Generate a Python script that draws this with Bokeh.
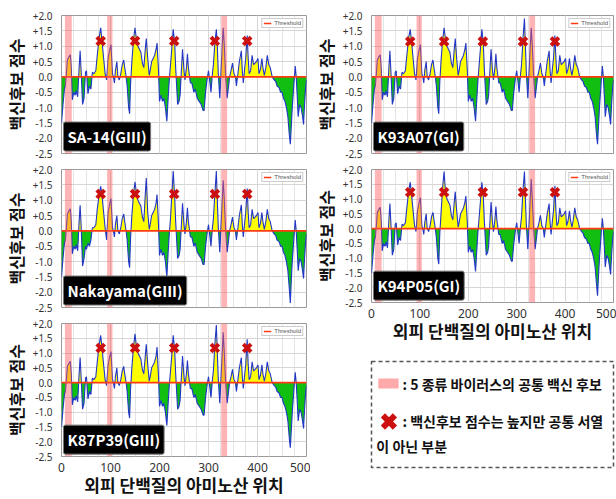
import numpy as np
from bokeh.plotting import figure
from bokeh.layouts import row, column
from bokeh.models import (Range1d, FixedTicker, BoxAnnotation, Label, Legend,
                          LegendItem, CustomJSTickFormatter)
from bokeh.core.properties import value
from bokeh.embed import file_html
from bokeh.resources import INLINE

FONT = "Noto Sans CJK KR"

# ---------------- data ----------------
POS = [0, 3, 6, 8, 10, 12, 15, 18, 20, 22, 25, 28, 30, 33, 36, 38, 40, 43, 46, 49,
       51, 54, 57, 60, 63, 66, 70, 73, 77, 80, 83, 86, 89, 92, 95, 98, 101, 104, 106, 108,
       110, 113, 115, 118, 121, 124, 127, 129, 131, 134, 137, 139, 141, 144, 147, 150, 153, 156, 159, 162,
       165, 168, 171, 173, 176, 179, 181, 184, 187, 190, 193, 195, 198, 200, 203, 206, 209, 212, 215, 218,
       220, 222, 225, 228, 231, 233, 235, 237, 240, 242, 245, 247, 250, 252, 255, 257, 259, 261, 263, 266,
       270, 273, 277, 281, 285, 289, 291, 294, 297, 300, 303, 305, 308, 310, 313, 316, 318, 320, 323, 326,
       328, 330, 332, 335, 338, 341, 343, 346, 349, 352, 355, 357, 360, 363, 367, 369, 371, 374, 376, 379,
       381, 383, 386, 389, 392, 395, 398, 401, 403, 406, 409, 411, 414, 417, 420, 423, 426, 430, 434, 437,
       440, 444, 447, 450, 453, 456, 459, 462, 465, 467, 469, 471, 474, 477, 479, 481, 483, 486, 489, 492,
       494, 496, 498, 500]

SA14 = [-1.5, -0.9, -0.4, -0.3, 0.1, 0.55, 0.65, 0.72, 0.3, -0.75, -0.5, -0.6, -0.45, -0.65, 0.3, 0.85, 0.2, -0.9, -0.7, 0.15,
        0.2, -0.55, -0.3, -0.4, 0.15, 0.1, 0.2, 0.7, 1.3, 1.6, 1.1, 0.6, 0.1, -0.1, 0.6, 0.85, 1.05, 0.1, 0.0, -0.2,
        0.2, 0.5, 0.0, -0.1, 0.1, 0.4, 0.55, 0.3, 0.1, -0.3, -1.0, -1.2, -0.2, 0.6, 1.2, 1.6, 1.2, 1.0, 0.9, 0.8,
        0.45, 0.3, 0.9, 1.25, 0.6, 0.05, 0.2, 0.5, 0.6, 0.7, 0.9, 1.1, 0.2, -0.8, -0.6, -0.8, -0.7, -1.0, -1.45, -0.6,
        -0.1, 0.3, 0.9, 1.55, 1.1, 0.3, -0.3, -0.9, -0.8, -0.6, 0.3, 0.9, 0.2, -0.1, 0.3, 0.75, 0.3, 0.05, -0.2, -0.2,
        -0.5, -0.4, -0.7, -0.8, -0.9, -1.1, -1.1, -0.5, -0.1, 0.2, -0.2, -0.5, 0.1, 0.4, 1.1, 1.55, 1.0, 0.1, -0.7, 0.3,
        1.0, 1.6, 1.1, 0.0, -0.7, -0.3, 0.0, 0.2, 0.45, 0.1, 0.0, -0.3, 0.1, 0.5, 0.85, 0.2, -0.2, 0.3, 0.6, 1.35,
        0.6, 0.1, 0.2, 0.7, 0.4, 0.45, 0.5, 0.6, 0.1, 0.25, 0.6, 0.3, 0.05, 0.3, 0.7, 0.4, 0.3, 0.0, -0.1, -0.15,
        -0.3, -0.35, -0.5, -0.5, -0.7, -0.8, -1.0, -1.3, -1.9, -2.2, -1.6, -1.0, -0.3, 0.35, 0.0, -0.6, -1.3, -0.9, -1.0, -1.3,
        -1.55, -0.9, -0.4, -0.1]

# values read where the other strains differ from SA-14
NAKAYAMA_DIFF = {38: 0.83, 43: -1.15, 46: -0.9, 49: -0.5, 51: -0.6, 54: -0.4, 57: -0.5, 60: -0.3, 63: 0.1,
                 77: 1.2, 80: 1.45, 92: -0.3, 150: 1.6, 171: 1.2, 173: 1.72, 195: 1.18, 215: -1.5,
                 225: 1.1, 228: 1.95, 313: 1.2, 316: 1.95, 330: 1.65, 379: 1.38, 467: -2.35}
K87P39_DIFF = {80: 1.6, 150: 1.65, 173: 1.3, 195: 1.2, 228: 1.6, 313: 1.3, 316: 1.95, 330: 1.7, 379: 1.47}
K93A07_DIFF = {80: 1.55, 150: 1.6, 228: 1.55, 313: 1.25, 316: 1.9, 330: 1.6, 379: 1.35}
K94P05_DIFF = {80: 1.57, 147: 1.4, 150: 1.93, 228: 1.57, 313: 1.3, 316: 1.93, 330: 1.68, 379: 1.45, 467: -2.27}

STRAINS = ["SA-14(GIII)", "Nakayama(GIII)", "K87P39(GIII)", "K93A07(GI)", "K94P05(GI)"]
MARK_X = [80, 150, 230, 313, 379]
MARK_Y = [1.17, 1.2, 1.17, 1.15, 1.23]
BANDS = [(7, 21), (93, 104), (326, 338)]
THRESHOLD = 0.0

X_TICKS = [0, 100, 200, 300, 400, 500]
X_MINOR = list(range(0, 501, 25))
Y_TICKS = [-2.5, -2.0, -1.5, -1.0, -0.5, 0.0, 0.5, 1.0, 1.5, 2.0]
Y_TITLE = "백신후보 점수"
X_TITLE = "외피 단백질의 아미노산 위치"
LEGEND_BAND = ": 5 종류 바이러스의 공통 백신 후보"
LEGEND_MARK = [": 백신후보 점수는 높지만 공통 서열", "이 아닌 부분"]

FRAME_W = 250
FRAME_H = 138


def series(diff):
    return [diff.get(x, v) for x, v in zip(POS, SA14)]


SERIES = [SA14, series(NAKAYAMA_DIFF), series(K87P39_DIFF), series(K93A07_DIFF), series(K94P05_DIFF)]


def split_fill(xs, ys):
    ox, oy = [], []
    for i in range(len(xs)):
        if i > 0 and ((ys[i - 1] < 0 < ys[i]) or (ys[i - 1] > 0 > ys[i])):
            t = ys[i - 1] / (ys[i - 1] - ys[i])
            ox.append(xs[i - 1] + t * (xs[i] - xs[i - 1]))
            oy.append(0.0)
        ox.append(xs[i])
        oy.append(ys[i])
    oy = np.array(oy)
    return np.array(ox), np.maximum(oy, 0), np.minimum(oy, 0)


def panel(idx, left, right, top, bottom, show_x):
    ys = SERIES[idx]
    p = figure(width=left + FRAME_W + right, height=top + FRAME_H + bottom,
               x_range=Range1d(X_TICKS[0], X_TICKS[-1]),
               y_range=Range1d(Y_TICKS[0], Y_TICKS[-1]), output_backend="svg",
               toolbar_location=None, min_border_left=left, min_border_right=right,
               min_border_top=top, min_border_bottom=bottom)
    p.outline_line_color = "#9a9a9a"
    p.outline_line_width = 1

    fx, fpos, fneg = split_fill(POS, ys)
    p.varea(x=fx, y1=THRESHOLD, y2=fpos, fill_color="#ffff00")
    p.varea(x=fx, y1=fneg, y2=THRESHOLD, fill_color="#10bf10")
    p.line(POS, ys, line_color="#2236c8", line_width=1.1)
    thr = p.line([X_TICKS[0], X_TICKS[-1]], [THRESHOLD, THRESHOLD], line_color="#ff3a12", line_width=1.6)
    p.scatter(MARK_X, [MARK_Y[idx]] * len(MARK_X), marker="x", size=11, line_width=4,
              line_color="#cc1010")

    for a, b in BANDS:
        p.add_layout(BoxAnnotation(left=a, right=b, fill_color="#ff5c5c", fill_alpha=0.45,
                                   line_color=None))

    p.add_layout(Label(x=4, y=-2.42, text=STRAINS[idx], text_color="white", text_font=FONT,
                       text_font_style="bold", text_font_size="15px", text_baseline="bottom",
                       background_fill_color="black", background_fill_alpha=1.0,
                       border_line_color="#777777", padding=4, border_radius=2))

    lg = Legend(items=[LegendItem(label="Threshold", renderers=[thr])], location="top_right",
                label_text_font_size="6px", label_text_color="#555555", glyph_width=8,
                glyph_height=6, label_height=6, padding=1, margin=3, spacing=0,
                label_standoff=3, border_line_color="#9a9a9a", background_fill_alpha=1.0)
    p.add_layout(lg)

    # grid
    p.xgrid.ticker = FixedTicker(ticks=X_TICKS, minor_ticks=X_MINOR)
    p.xgrid.grid_line_color = "#d6d6d6"
    p.xgrid.minor_grid_line_color = "#e4e4e4"
    p.ygrid.ticker = FixedTicker(ticks=Y_TICKS)
    p.ygrid.grid_line_color = "#d6d6d6"

    ya = p.yaxis[0]
    ya.ticker = FixedTicker(ticks=Y_TICKS)
    ya.formatter = CustomJSTickFormatter(
        code="return tick > 0 ? '+' + tick.toFixed(1) : tick.toFixed(1);")
    ya.major_tick_line_color = None
    ya.minor_tick_line_color = None
    ya.axis_line_color = None
    ya.major_label_text_font = "Noto Sans"
    ya.major_label_text_font_size = "10px"
    ya.major_label_text_color = "#333333"
    ya.major_label_standoff = 3
    ya.axis_label = Y_TITLE
    ya.axis_label_text_font = FONT
    ya.axis_label_text_font_style = "bold"
    ya.axis_label_text_font_size = "16px"
    ya.axis_label_text_color = "#111111"
    ya.axis_label_standoff = 2

    xa = p.xaxis[0]
    xa.ticker = FixedTicker(ticks=X_TICKS, minor_ticks=X_MINOR)
    if show_x:
        xa.major_tick_line_color = None
        xa.minor_tick_line_color = None
        xa.axis_line_color = None
        xa.major_label_text_font = "Noto Sans"
        xa.major_label_text_font_size = "12px"
        xa.major_label_text_color = "#333333"
        xa.major_label_standoff = 0
        xa.axis_label = X_TITLE
        xa.axis_label_text_font = FONT
        xa.axis_label_text_font_style = "bold"
        xa.axis_label_text_font_size = "17px"
        xa.axis_label_text_color = "#111111"
        xa.axis_label_standoff = -3
    else:
        xa.visible = False
    return p


L1 = panel(0, 56, 4, 15, 8, False)
L2 = panel(1, 56, 4, 8, 8, False)
L3 = panel(2, 56, 4, 8, 38, True)
R1 = panel(3, 53, 3, 15, 8, False)
R2 = panel(4, 53, 3, 8, 38, True)

# legend box
LG = figure(width=306, height=154, x_range=Range1d(0, 250), y_range=Range1d(0, 106),
            output_backend="svg", toolbar_location=None, min_border_left=53,
            min_border_right=3, min_border_top=16, min_border_bottom=32)
LG.axis.visible = False
LG.grid.visible = False
LG.outline_line_color = "#555555"
LG.outline_line_dash = "4 3"
LG.outline_line_width = 1.5
LG.quad(left=[7], right=[28], bottom=[79], top=[89], fill_color="#ffaaaa", line_color=None)
LG.text(x=[32], y=[84], text=[LEGEND_BAND], text_font=value(FONT), text_font_style="bold",
        text_font_size="14px", text_baseline="middle", text_color="#111111")
LG.scatter(x=[18], y=[46], marker="x", size=17, line_width=6, line_color="#cc1010")
LG.text(x=[32], y=[47], text=[LEGEND_MARK[0]], text_font=value(FONT), text_font_style="bold",
        text_font_size="14px", text_baseline="middle", text_color="#111111")
LG.text(x=[5], y=[22], text=[LEGEND_MARK[1]], text_font=value(FONT), text_font_style="bold",
        text_font_size="14px", text_baseline="middle", text_color="#111111")

left = column(L1, L2, L3, spacing=0)
right = column(R1, R2, LG, spacing=0)
root = row(left, right, spacing=0)

open("out.html", "w").write(file_html(root, INLINE))
